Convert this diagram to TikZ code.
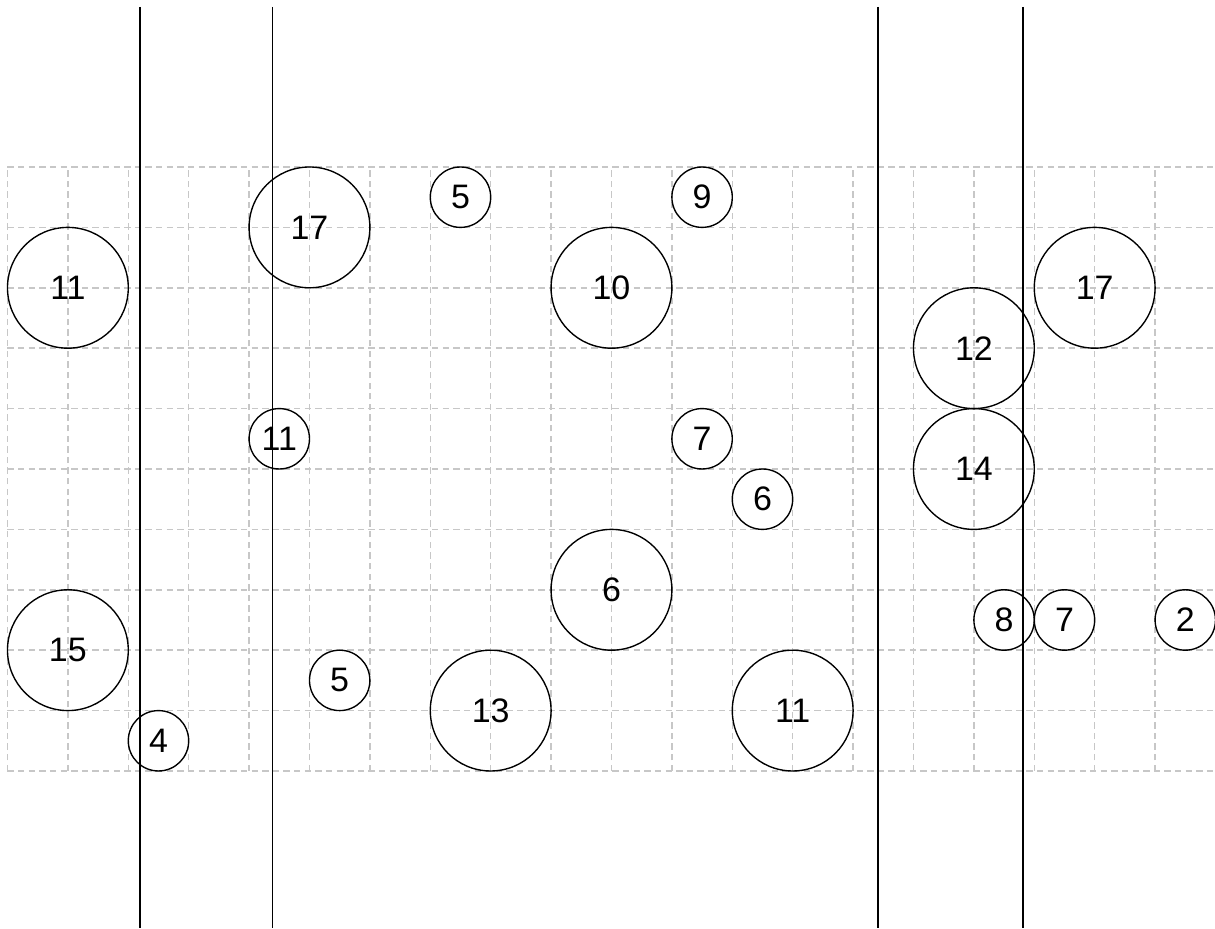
\documentclass[tikz,border=0pt]{standalone}
\usepackage{fontspec}
\setmainfont{Liberation Sans}
\begin{document}
\begin{tikzpicture}[
  gridline/.style={draw=black!22, line width=0.7pt, dash pattern=on 3pt off 2pt},
  wall/.style={draw=black, line width=0.75pt},
  big/.style={circle, draw=black, line width=0.65pt, minimum size=2cm, inner sep=0pt, font=\fontsize{16}{18}\selectfont},
  small/.style={circle, draw=black, line width=0.65pt, minimum size=1cm, inner sep=0pt, font=\fontsize{16}{18}\selectfont}
]
\useasboundingbox (-0.124,-2.6) rectangle (19.992,12.765);
\begin{scope}
\clip (-0.124,-2.6) rectangle (19.992,12.765);
\foreach \x in {0,...,20} \draw[gridline] (\x,0) -- (\x,10);
\foreach \y in {0,...,10} \draw[gridline] (0,\y) -- (20,\y);
\end{scope}
% vertical walls
\coordinate (w1t) at (2.19,12.65);  \coordinate (w1b) at (2.19,-2.6);
\coordinate (w2t) at (4.39,12.65);  \coordinate (w2b) at (4.39,-2.6);
\coordinate (w3t) at (14.41,12.65); \coordinate (w3b) at (14.41,-2.6);
\coordinate (w4t) at (16.81,12.65); \coordinate (w4b) at (16.81,-2.6);
\draw[wall] (w1t) -- (w1b);
\draw[wall] (w2t) -- (w2b);
\draw[wall] (w3t) -- (w3b);
\draw[wall] (w4t) -- (w4b);
% circles
\node[big] (c1) at (1,8) {11};
\node[big] (c2) at (5,9) {17};
\node[small] (c3) at (7.5,9.5) {5};
\node[small] (c4) at (11.5,9.5) {9};
\node[big] (c5) at (10,8) {10};
\node[big] (c6) at (18,8) {17};
\node[big] (c7) at (16,7) {12};
\node[small] (c8) at (4.5,5.5) {11};
\node[small] (c9) at (11.5,5.5) {7};
\node[small] (c10) at (12.5,4.5) {6};
\node[big] (c11) at (16,5) {14};
\node[big] (c12) at (10,3) {6};
\node[big] (c13) at (1,2) {15};
\node[small] (c14) at (16.5,2.5) {8};
\node[small] (c15) at (17.5,2.5) {7};
\node[small] (c16) at (19.5,2.5) {2};
\node[small] (c17) at (5.5,1.5) {5};
\node[big] (c18) at (8,1) {13};
\node[big] (c19) at (13,1) {11};
\node[small] (c20) at (2.5,0.5) {4};
\end{tikzpicture}
\end{document}
